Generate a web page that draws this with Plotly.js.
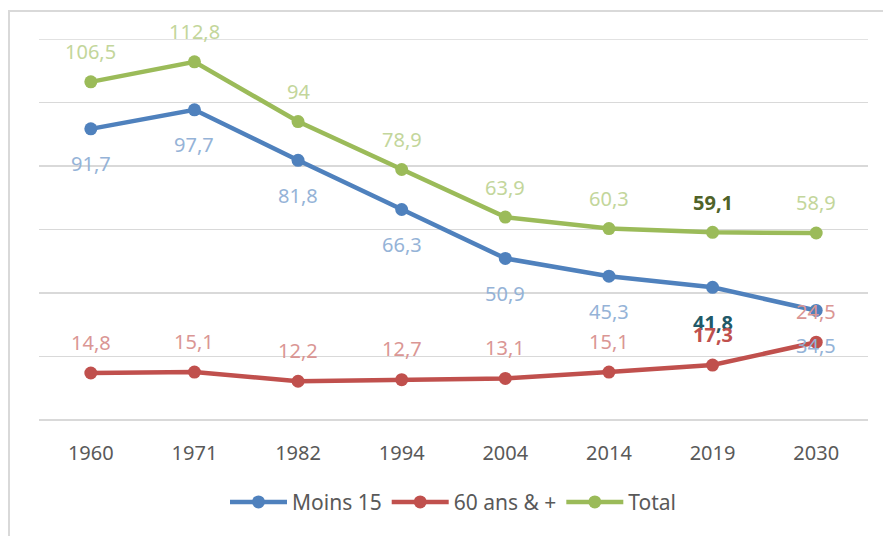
<!DOCTYPE html>
<html>
<head>
<meta charset="utf-8">
<script src="https://cdn.plot.ly/plotly-3.0.1.min.js"></script>
<style>
  html, body { margin: 0; padding: 0; background: #fff; }
  #chart { position: absolute; left: 0; top: 0; width: 883px; height: 536px; }
  #frame { position: absolute; left: 8px; top: 10px; width: 875px; height: 526px;
           border-top: 2px solid #D9D9D9; border-left: 2px solid #D9D9D9;
           box-sizing: border-box; pointer-events: none; }
</style>
</head>
<body>
<div id="chart"></div>
<div id="frame"></div>
<script>
// ---- data ----
const categories = ['1960', '1971', '1982', '1994', '2004', '2014', '2019', '2030'];
const seriesNames = ['Moins 15', '60 ans & +', 'Total'];
const moins15 = [91.7, 97.7, 81.8, 66.3, 50.9, 45.3, 41.8, 34.5];
const ans60 = [14.8, 15.1, 12.2, 12.7, 13.1, 15.1, 17.3, 24.5];
const total = [106.5, 112.8, 94, 78.9, 63.9, 60.3, 59.1, 58.9];
const yMax = 120;

// ---- styles ----
const FONT = 'Noto Sans, Liberation Sans, sans-serif';
const styles = [
  { color: '#4F81BD', label: '#95B3D7', bold: '#215968', shift: -35 },
  { color: '#C0504D', label: '#DA9694', bold: '#C0504D', shift: 31 },
  { color: '#9BBB59', label: '#C3D69B', bold: '#4F6228', shift: 30 }
];
const boldIndex = 6;
const seriesValues = [moins15, ans60, total];

const fmt = v => String(v).replace('.', ',');

const traces = seriesValues.map((vals, s) => ({
  type: 'scatter',
  mode: 'lines+markers',
  name: seriesNames[s],
  x: categories,
  y: vals,
  line: { color: styles[s].color, width: 4.5 },
  marker: { color: styles[s].color, size: 13 },
  hoverinfo: 'skip'
}));

const annotations = [];
seriesValues.forEach((vals, s) => {
  vals.forEach((v, i) => {
    const isBold = i === boldIndex;
    annotations.push({
      x: i, y: v, xref: 'x', yref: 'y',
      text: isBold ? '<b>' + fmt(v) + '</b>' : fmt(v),
      showarrow: false,
      yshift: styles[s].shift,
      font: { family: FONT, size: 20, color: isBold ? styles[s].bold : styles[s].label }
    });
  });
});

const layout = {
  width: 883, height: 536,
  margin: { l: 39, r: 15, t: 39, b: 116 },
  paper_bgcolor: 'rgba(0,0,0,0)',
  plot_bgcolor: '#fff',
  font: { family: FONT, color: '#595959', size: 20 },
  showlegend: true,
  legend: {
    orientation: 'h', x: 0.5, xanchor: 'center', y: -0.216, yanchor: 'middle',
    font: { family: FONT, size: 21, color: '#595959' },
    itemwidth: 57, traceorder: 'normal'
  },
  xaxis: {
    type: 'category', range: [-0.5, 7.5], showgrid: false, zeroline: false,
    showline: false, ticks: '', ticklabelstandoff: 19,
    tickfont: { family: FONT, size: 20, color: '#595959' }, fixedrange: true
  },
  yaxis: {
    range: [0, yMax], dtick: 20, showticklabels: false, showgrid: true,
    gridcolor: '#D9D9D9', gridwidth: 1.5, zeroline: true, zerolinecolor: '#D9D9D9',
    zerolinewidth: 1.5, showline: false, ticks: '', fixedrange: true
  },
  shapes: [{
    type: 'line', xref: 'paper', yref: 'y', x0: 0, x1: 1, y0: yMax, y1: yMax,
    line: { color: '#D9D9D9', width: 1.5 }, layer: 'below'
  }],
  annotations: annotations
};

Plotly.newPlot('chart', traces, layout, { displayModeBar: false, staticPlot: true });
</script>
</body>
</html>
